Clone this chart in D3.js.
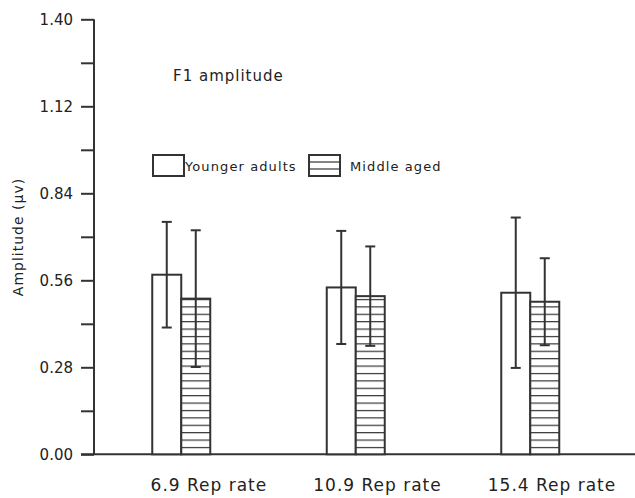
<!DOCTYPE html>
<html>
<head>
<meta charset="utf-8">
<script src="https://cdn.jsdelivr.net/npm/d3@7"></script>
<style>
  body { margin: 0; background: #fff; }
  text { font-family: "DejaVu Sans", sans-serif; fill: #222; }
</style>
</head>
<body>
<div id="chart"></div>
<script>
var categories = ["6.9 Rep rate", "10.9 Rep rate", "15.4 Rep rate"];
var seriesNames = ["Younger adults", "Middle aged"];
var youngerMean = [0.578, 0.537, 0.520];
var youngerErr = [0.170, 0.182, 0.242];
var middleMean = [0.501, 0.509, 0.491];
var middleErr = [0.220, 0.160, 0.140];
var majorTicks = [0, 0.28, 0.56, 0.84, 1.12, 1.40];
var minorTicks = [0.14, 0.42, 0.70, 0.98, 1.26];

var width = 635, height = 498;
var ink = "#333";

var svg = d3.select("#chart").append("svg")
    .attr("width", width)
    .attr("height", height);

var defs = svg.append("defs");
var hatch = defs.append("pattern")
    .attr("id", "hatch")
    .attr("patternUnits", "userSpaceOnUse")
    .attr("width", 8)
    .attr("height", 7.4)
    .attr("y", 454.3);
hatch.append("rect").attr("width", 8).attr("height", 7.4).attr("fill", "#fff");
hatch.append("line")
    .attr("x1", 0).attr("x2", 8)
    .attr("y1", 0.6).attr("y2", 0.6)
    .attr("stroke", ink).attr("stroke-width", 1.2);

var y = d3.scaleLinear().domain([0, 1.4]).range([454.3, 19.3]);
var x = d3.scaleBand().domain(categories).range([94, 617.5]);
var xSub = d3.scaleBand().domain(seriesNames).range([-29, 29]);

// y axis, major + minor ticks
var yMajor = svg.append("g")
    .attr("transform", "translate(94,0)")
    .call(d3.axisLeft(y).tickValues(majorTicks).tickSize(13).tickPadding(8)
        .tickFormat(d3.format(".2f")));
svg.append("g")
    .attr("transform", "translate(94,0)")
    .call(d3.axisLeft(y).tickValues(minorTicks).tickSize(13).tickFormat(""))
    .select(".domain").remove();
svg.selectAll(".tick line").attr("stroke", ink).attr("stroke-width", 2);
yMajor.select(".domain").attr("stroke", ink).attr("stroke-width", 2)
    .attr("d", "M0," + y(1.4) + "V" + y(0));
yMajor.selectAll(".tick text")
    .style("font-size", "15px")
    .style("font-family", "DejaVu Sans")
    .attr("fill", "#222");

// baseline
svg.append("line")
    .attr("x1", 81).attr("x2", width)
    .attr("y1", y(0)).attr("y2", y(0))
    .attr("stroke", ink).attr("stroke-width", 2);

var series = [
  { name: seriesNames[0], mean: youngerMean, err: youngerErr, fill: "#fff" },
  { name: seriesNames[1], mean: middleMean, err: middleErr, fill: "url(#hatch)" }
];

var barW = xSub.bandwidth();
series.forEach(function (s) {
  var g = svg.append("g");
  categories.forEach(function (c, i) {
    var cx = x(c) + x.bandwidth() / 2 + xSub(s.name);
    g.append("rect")
        .attr("x", cx)
        .attr("y", y(s.mean[i]))
        .attr("width", barW)
        .attr("height", y(0) - y(s.mean[i]))
        .attr("fill", s.fill)
        .attr("stroke", ink)
        .attr("stroke-width", 2);
  });
});

// error bars on top
series.forEach(function (s) {
  categories.forEach(function (c, i) {
    var mx = x(c) + x.bandwidth() / 2 + xSub(s.name) + barW / 2;
    var hi = y(s.mean[i] + s.err[i]), lo = y(s.mean[i] - s.err[i]);
    var eg = svg.append("g").attr("stroke", ink).attr("stroke-width", 2);
    eg.append("line").attr("x1", mx).attr("x2", mx).attr("y1", hi).attr("y2", lo);
    eg.append("line").attr("x1", mx - 5).attr("x2", mx + 5).attr("y1", hi).attr("y2", hi);
    eg.append("line").attr("x1", mx - 5).attr("x2", mx + 5).attr("y1", lo).attr("y2", lo);
  });
});

// category labels, right-aligned
svg.selectAll(".xlab").data(categories).enter().append("text")
    .attr("class", "xlab")
    .attr("x", function (d) { return x(d) + x.bandwidth() / 2 + 86; })
    .attr("y", 491)
    .attr("text-anchor", "end")
    .style("font-size", "17px")
    .style("letter-spacing", "1px")
    .text(function (d) { return d; });

// y label
svg.append("text")
    .attr("transform", "translate(23,237) rotate(-90)")
    .attr("text-anchor", "middle")
    .style("font-size", "14px")
    .style("letter-spacing", "1px")
    .text("Amplitude (\u00b5v)");

// title
svg.append("text")
    .attr("x", 173).attr("y", 81)
    .style("font-size", "15px")
    .style("letter-spacing", "1px")
    .text("F1 amplitude");

// legend
var legend = [
  { name: seriesNames[0], bx: 153, tx: 185 },
  { name: seriesNames[1], bx: 309, tx: 350 }
];
legend.forEach(function (l, i) {
  svg.append("rect")
      .attr("x", l.bx).attr("y", 155)
      .attr("width", 31).attr("height", 21)
      .attr("fill", "#fff").attr("stroke", ink).attr("stroke-width", 2);
  if (i === 1) {
    [162, 169].forEach(function (ly) {
      svg.append("line")
          .attr("x1", l.bx).attr("x2", l.bx + 31)
          .attr("y1", ly).attr("y2", ly)
          .attr("stroke", ink).attr("stroke-width", 1.2);
    });
  }
  svg.append("text")
      .attr("x", l.tx).attr("y", 171)
      .style("font-size", "13px")
      .style("letter-spacing", "1.1px")
      .text(l.name);
});
</script>
</body>
</html>
